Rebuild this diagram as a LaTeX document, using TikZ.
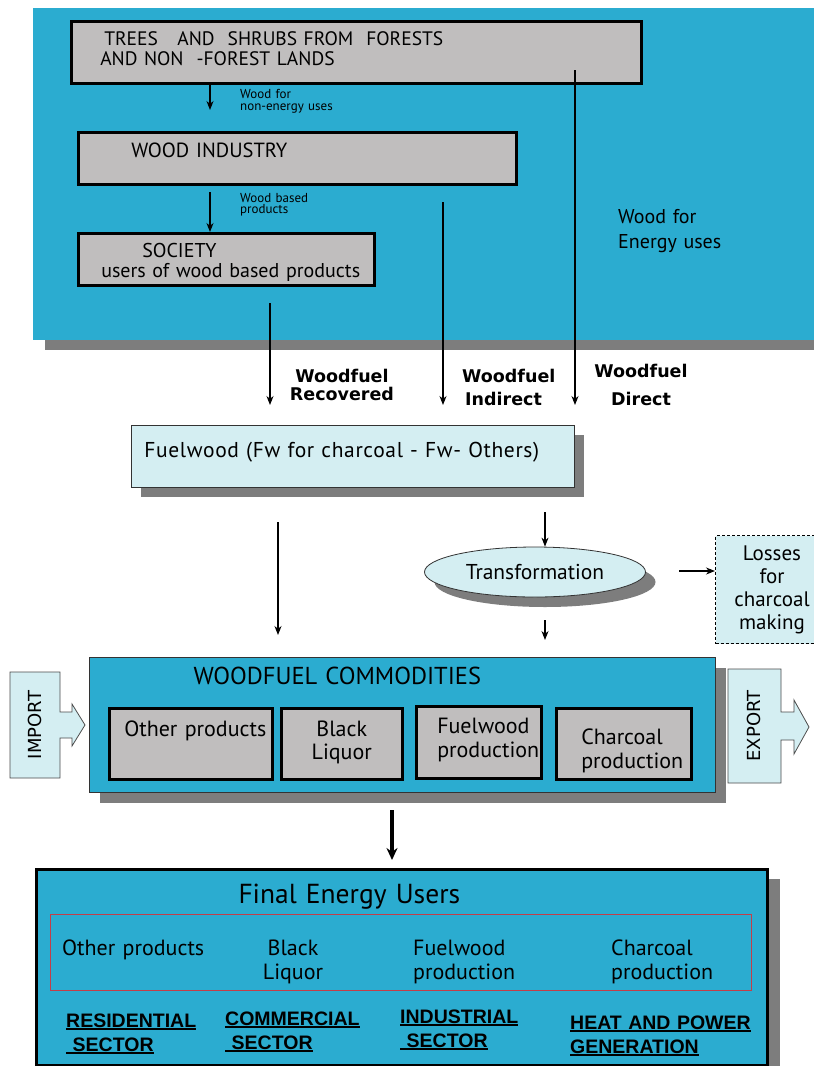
\documentclass[tikz,border=0pt]{standalone}
\usepackage{fontspec}
\setmainfont{PT Sans}
\newfontfamily\flowfont{DejaVu Sans}
\newfontfamily\sectorfont{Liberation Sans}
\usetikzlibrary{positioning, arrows.meta, shapes.geometric, shadows}
\definecolor{PanelBlue}{RGB}{43,172,208}
\definecolor{BoxGray}{RGB}{192,190,190}
\definecolor{PaleCyan}{RGB}{212,238,242}
\definecolor{ShadowGray}{RGB}{125,125,125}
\definecolor{FrameRed}{RGB}{196,62,72}
\newcommand{\fsz}[2]{\fontsize{#1}{#2}\selectfont}
\newcommand{\secul}[1]{\leavevmode\vtop{\hbox{#1}\kern1.2pt\hrule height 2pt}}

\begin{document}
\begin{tikzpicture}[x=1pt, y=-1pt,
    graybox/.style={draw, line width=2.5pt, fill=BoxGray, inner sep=0pt, anchor=north west, align=left},
    palebox/.style={draw=black!80, line width=0.8pt, fill=PaleCyan, inner sep=0pt},
    shade/.style={drop shadow={shadow xshift=10pt, shadow yshift=-10pt, fill=ShadowGray, opacity=1}},
    lbl/.style={inner sep=0pt, anchor=base west, align=left},
    flow/.style={-{Stealth[length=9pt, width=7pt]}, line width=1.1pt},
    fuel/.style={inner sep=0pt, text width=120pt, font=\flowfont\bfseries\fsz{17.5}{#1}},
    sector/.style={lbl, text width=200pt, font=\sectorfont\bfseries\fsz{19.5}{24}},
    arrowbox/.style={draw=black!70, line width=0.8pt, fill=PaleCyan}
]
\useasboundingbox (0,0) rectangle (814,1066);
\clip (0,0) rectangle (814,1066);
\fill[white] (0,0) rectangle (814,1066);

% upper panel
\node[fill=PanelBlue, anchor=north west, minimum width=781pt, minimum height=332pt, inner sep=0pt,
      drop shadow={shadow xshift=12pt, shadow yshift=-10pt, fill=ShadowGray, opacity=1}] (panel) at (33,8) {};
\node[graybox, minimum width=570pt, minimum height=62pt, inner xsep=29pt, text width=512pt,
      text height=24.5pt, text depth=37.5pt, font=\fsz{19.5}{20}] (trees) at (70,20)
      {\hspace*{4pt}TREES\ \ \ AND\ \ SHRUBS FROM\ \ FORESTS\\AND NON\ \ -FOREST LANDS};
\node[graybox, minimum width=438pt, minimum height=52pt, inner xsep=53pt, text width=332pt,
      text height=25pt, text depth=27pt, font=\fsz{20.5}{20}] (industry) at (77,131) {WOOD INDUSTRY};
\node[graybox, minimum width=296pt, minimum height=52pt, inner xsep=23pt, text width=250pt,
      text height=24pt, text depth=28pt, font=\fsz{20}{20.5}] (society) at (77,232)
      {\hspace*{41pt}SOCIETY\\\mbox{users of wood based products}};
\node[lbl, text width=120pt, font=\fsz{13}{12.5}] (nonenergy) at (240,98) {Wood for\\non-energy uses};
\node[lbl, text width=120pt, font=\fsz{13}{11.5}] (based) at (240,202) {Wood based\\products};
\node[lbl, text width=150pt, font=\fsz{20}{25}] (energyuses) at (618,223) {Wood for\\Energy uses};

% woodfuel flows
\coordinate (nonenergyend) at (210,110);
\coordinate (basedstart) at (210,192);
\coordinate (recstart) at (270,303);
\coordinate (recend) at (270,405);
\coordinate (indstart) at (443,202);
\coordinate (indend) at (443,405);
\coordinate (dirstart) at (575,70);
\coordinate (dirend) at (575,405);
\path[flow]
(trees.south -| nonenergyend) edge (nonenergyend)
(basedstart) edge (basedstart |- society.north)
(recstart) edge (recend)
(indstart) edge (indend)
(dirstart) edge (dirend);
\node[fuel=18.5, anchor=base, align=center] (recovered) at (342,382) {Woodfuel\\Recovered};
\node[fuel=23, anchor=base west, align=left] (indirect) at (462,382) {Woodfuel\\\hspace*{3pt}Indirect};
\node[fuel=28, anchor=base, align=center] (direct) at (641,377) {Woodfuel\\Direct};

% fuelwood and transformation
\node[palebox, shade, anchor=north west, minimum width=443pt, minimum height=62pt, inner xsep=13pt,
      text width=417pt, text height=32pt, text depth=30pt, align=left,
      font=\fsz{21.5}{24}\addfontfeatures{LetterSpace=3}] (fuelwood) at (131,425)
      {Fuelwood (Fw for charcoal - Fw- Others)};
\node[ellipse, palebox, shade, minimum width=221pt, minimum height=50pt, font=\fsz{21.5}{22}] (transform) at (535,572) {Transformation};
\node[draw, dash pattern=on 3pt off 2pt, line width=1pt, fill=PaleCyan, anchor=north west, minimum width=113pt,
      minimum height=108pt, inner sep=0pt, align=center, font=\fsz{21}{23}] (losses) at (715,535) {Losses\\for\\charcoal\\making};
\coordinate (directstart) at (278,522);
\coordinate (directend) at (278,635);
\coordinate (tostart) at (545,512);
\coordinate (fromstart) at (545,620);
\coordinate (fromend) at (545,640);
\coordinate (lossstart) at (679,571);
\path[flow]
(directstart) edge (directend)
(tostart) edge (tostart |- transform.north)
(fromstart) edge (fromend)
(lossstart) edge (lossstart -| losses.west);

% woodfuel commodities
\node[draw=black!80, line width=1pt, fill=PanelBlue, shade, anchor=north west, minimum width=626pt, minimum height=135pt,
      inner sep=0pt, inner xsep=104pt, text width=418pt, text height=27pt, text depth=108pt, align=left,
      font=\fsz{24.5}{26}] (commod) at (89,657) {WOODFUEL COMMODITIES};
\node[graybox, minimum width=163pt, minimum height=71pt, inner xsep=15pt, text width=133pt,
      text height=28pt, text depth=43pt, font=\fsz{22}{23}] (otherbox) at (108,707) {\mbox{Other products}};
\node[graybox, minimum width=121pt, minimum height=71pt, inner xsep=6pt, text width=109pt, align=center,
      text height=28pt, text depth=43pt, font=\fsz{22}{23}] (blackbox) at (280,707) {Black\\Liquor};
\node[graybox, minimum width=125pt, minimum height=72pt, inner xsep=21pt, text width=83pt,
      text height=27pt, text depth=45pt, font=\fsz{22}{24}] (fuelbox) at (415,705) {Fuelwood\\\mbox{production}};
\node[graybox, minimum width=135pt, minimum height=71pt, inner xsep=25pt, text width=85pt,
      text height=36pt, text depth=35pt, font=\fsz{22}{24}] (charbox) at (555,707) {Charcoal\\\mbox{production}};

% import and export
\draw[arrowbox] (10,672) -- (60,672) -- (60,712) -- (72,712) -- (72,704) -- (85,725) -- (72,746)
  -- (72,738) -- (60,738) -- (60,778) -- (10,778) -- cycle;
\node[rotate=90, inner sep=0pt, font=\flowfont\fsz{18}{20}] (import) at (35,725) {IMPORT};
\draw[arrowbox] (728,669) -- (781,669) -- (781,712) -- (794,712) -- (794,700) -- (809,727) -- (794,754)
  -- (794,740) -- (781,740) -- (781,783) -- (728,783) -- cycle;
\node[rotate=90, inner sep=0pt, font=\flowfont\fsz{18}{20}] (export) at (754,726) {EXPORT};

% final energy users
\coordinate (usestart) at (392,810);
\coordinate (useend) at (392,860);
\path[-{Stealth[length=12pt, width=11pt]}, line width=3.5pt] (usestart) edge (useend);
\node[draw, line width=3pt, fill=PanelBlue, drop shadow={shadow xshift=12pt, shadow yshift=-9pt, fill=ShadowGray, opacity=1},
      anchor=north west, minimum width=731pt, minimum height=196pt, inner sep=0pt, inner xsep=202pt, text width=327pt,
      text height=34pt, text depth=162pt, align=left, font=\fsz{27.5}{30}] (final) at (35,868) {Final Energy Users};
\node[draw=FrameRed, line width=1pt, anchor=north west, minimum width=701pt, minimum height=76pt, inner sep=0pt] (itemframe) at (50,914) {};
\node[lbl, text width=150pt, font=\fsz{22}{24}] (otheritem) at (62,955) {Other products};
\node[inner sep=0pt, anchor=base, text width=100pt, align=center, font=\fsz{22}{24}] (blackitem) at (293,955) {Black\\Liquor};
\node[lbl, text width=120pt, font=\fsz{22}{24}] (fuelitem) at (413,955) {Fuelwood\\production};
\node[lbl, text width=120pt, font=\fsz{22}{24}] (charitem) at (611,955) {Charcoal\\production};
\node[sector] (residential) at (66,1027) {\secul{RESIDENTIAL}\\\secul{\ SECTOR}};
\node[sector] (commercial) at (225,1025) {\secul{COMMERCIAL}\\\secul{\ SECTOR}};
\node[sector] (industrial) at (400,1023) {\secul{INDUSTRIAL}\\\secul{\ SECTOR}};
\node[sector] (heatpower) at (570,1029) {\secul{HEAT AND POWER}\\\secul{GENERATION}};
\end{tikzpicture}
\end{document}
